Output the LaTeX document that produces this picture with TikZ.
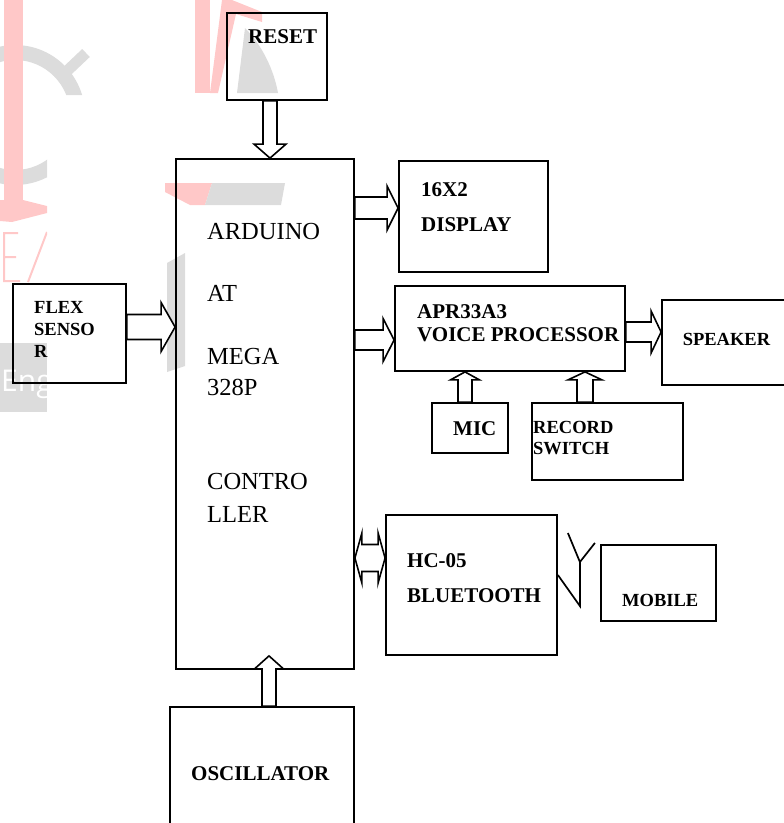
\documentclass[tikz,border=0pt]{standalone}
\usepackage{fontspec}
\setmainfont{Liberation Serif}
\setsansfont{Open Sans}
\usetikzlibrary{calc}
\definecolor{wmpink}{RGB}{255,200,200}
\definecolor{wmgray}{RGB}{220,220,220}
\tikzset{
  box/.style={draw, line width=1.8pt, inner sep=0pt},
  blk/.style={draw, line width=1.6pt, fill=white, line join=miter},
  lbl/.style={font=\bfseries\fontsize{21}{21}\selectfont, inner sep=0pt, anchor=west},
  slbl/.style={font=\bfseries\fontsize{18.5}{18.5}\selectfont, inner sep=0pt, anchor=west},
  mlbl/.style={font=\fontsize{24.5}{24.5}\selectfont, inner sep=0pt, anchor=west},
  ant/.style={draw, line width=1.7pt},
}
\newcommand{\blkright}[5]{%
  \draw[blk] let \p1=#1, \p2=#2 in
    (\x1,{\y1+#3}) -- ({\x2-#5},{\y1+#3}) -- ({\x2-#5},{\y1+#4}) -- (\x2,\y1)
    -- ({\x2-#5},{\y1-#4}) -- ({\x2-#5},{\y1-#3}) -- (\x1,{\y1-#3}) -- cycle;}
\newcommand{\blkup}[5]{%
  \draw[blk] let \p1=#1, \p2=#2 in
    ({\x1-#3},\y1) -- ({\x1-#3},{\y2-#5}) -- ({\x1-#4},{\y2-#5}) -- (\x1,\y2)
    -- ({\x1+#4},{\y2-#5}) -- ({\x1+#3},{\y2-#5}) -- ({\x1+#3},\y1) -- cycle;}
\newcommand{\blkdown}[5]{%
  \draw[blk] let \p1=#1, \p2=#2 in
    ({\x1-#3},\y1) -- ({\x1-#3},{\y2+#5}) -- ({\x1-#4},{\y2+#5}) -- (\x1,\y2)
    -- ({\x1+#4},{\y2+#5}) -- ({\x1+#3},{\y2+#5}) -- ({\x1+#3},\y1) -- cycle;}
\newcommand{\blkboth}[5]{%
  \draw[blk] let \p1=#1, \p2=#2 in
    (\x1,\y1) -- ({\x1+#5},{\y1+#4}) -- ({\x1+#5},{\y1+#3}) -- ({\x2-#5},{\y1+#3})
    -- ({\x2-#5},{\y1+#4}) -- (\x2,\y1) -- ({\x2-#5},{\y1-#4}) -- ({\x2-#5},{\y1-#3})
    -- ({\x1+#5},{\y1-#3}) -- ({\x1+#5},{\y1-#4}) -- cycle;}
\begin{document}
\begin{tikzpicture}[x=1pt, y=-1pt]
\useasboundingbox (0,0) rectangle (784,823);
\clip (0,0) rectangle (784,823);
% ---------- faint background watermark ----------
\begin{scope}
  \clip (0,0) rectangle (140,95) (0,95) rectangle (47,823);
  \fill[wmgray, even odd rule] (15,115) circle (70pt) (15,115) circle (55pt);
  \draw[wmgray, line width=11pt] (67,71) -- (86,53);
  \fill[wmpink] (4,0) rectangle (23,205);
  \fill[wmpink] (0,200) -- (23,200) -- (47,206) -- (47,213) -- (12,222) -- (0,221) -- cycle;
  \draw[wmpink, line width=2pt] (4,232) -- (4,282) (4,233) -- (18,233) (4,257) -- (16,257) (4,281) -- (20,281) (28,282) -- (47,232);
  \fill[wmgray] (0,343) rectangle (47,412);
  \node[font=\sffamily\fontsize{30}{30}\selectfont, text=white, inner sep=0pt, anchor=base west] (wmtext) at (1,391) {Engi};
\end{scope}
\fill[wmpink] (195,0) rectangle (210,93);
\fill[wmpink] (210,93) -- (218,93) -- (236,14) -- (262,22) -- (262,12) -- (232,0) -- (222,0) -- cycle;
\fill[wmgray] (237,93) -- (245,28) .. controls (262,45) and (274,70) .. (278,93) -- cycle;
\fill[wmpink] (165,183) -- (212,183) -- (205,205) -- (190,205) -- (165,192) -- cycle;
\fill[wmgray] (212,183) -- (285,183) -- (281,205) -- (205,205) -- cycle;
\fill[wmgray] (167,263) -- (185,253) -- (185,366) -- (167,372) -- cycle;
% ---------- blocks ----------
\node[box, minimum width=100pt, minimum height=87pt]  (reset) at (277,56.5) {};
\node[box, minimum width=178pt, minimum height=510pt] (main)  at (265,414) {};
\node[box, minimum width=113pt, minimum height=99pt]  (flex)  at (69.5,333.5) {};
\node[box, minimum width=149pt, minimum height=111pt] (disp)  at (473.5,216.5) {};
\node[box, minimum width=230pt, minimum height=85pt]  (apr)   at (510,328.5) {};
\node[box, minimum width=138pt, minimum height=85pt]  (spk)   at (731,342.5) {};
\node[box, minimum width=76pt,  minimum height=50pt]  (mic)   at (470,428) {};
\node[box, minimum width=151pt, minimum height=77pt]  (rec)   at (607.5,441.5) {};
\node[box, minimum width=171pt, minimum height=140pt] (bt)    at (471.5,585) {};
\node[box, minimum width=115pt, minimum height=76pt]  (mob)   at (658.5,583) {};
\node[box, minimum width=184pt, minimum height=133pt] (osc)   at (262,773.5) {};
% ---------- connector anchor points ----------
\coordinate (resetout) at ([xshift=-7pt]reset.south);
\coordinate (dispin)   at ([yshift=8.5pt]disp.west);
\coordinate (aprin)    at ([yshift=-11.5pt]apr.west);
\coordinate (spkin)    at ([yshift=10.5pt]spk.west);
\coordinate (flexout)  at ([yshift=6.5pt]flex.east);
\coordinate (btin)     at ([yshift=27pt]bt.west);
\coordinate (micout)   at ([xshift=-5pt]mic.north);
\coordinate (recout)   at ([xshift=-22.5pt]rec.north);
\coordinate (oscout)   at ([xshift=7pt]osc.north);
\coordinate (osctip)   at ([yshift=14pt]main.south -| oscout);
\coordinate (antbase)  at ([yshift=10pt]bt.east);
% ---------- block arrows ----------
\blkdown{(resetout)}{(main.north -| resetout)}{7pt}{16pt}{14pt}
\blkright{(main.east |- dispin)}{(dispin)}{11pt}{22pt}{11pt}
\blkright{(main.east |- aprin)}{(aprin)}{10pt}{21.5pt}{11pt}
\blkright{(apr.east |- spkin)}{(spkin)}{10pt}{21pt}{10pt}
\blkright{(flexout)}{(main.west |- flexout)}{12.5pt}{24.5pt}{14pt}
\blkup{(micout)}{(apr.south -| micout)}{7pt}{14.5pt}{8pt}
\blkup{(recout)}{(apr.south -| recout)}{8pt}{17pt}{8pt}
\blkup{(oscout)}{(osctip)}{7pt}{14.5pt}{13pt}
\blkboth{(main.east |- btin)}{(btin)}{13.5pt}{25pt}{7pt}
% ---------- antenna ----------
\draw[ant] (antbase) -- ++(22,31) -- ++(0,-44) coordinate (ant) -- ++(-12,-29);
\draw[ant] (ant) -- ++(15,-19);
% ---------- labels ----------
\node[lbl] (tReset) at (248,36.5) {RESET};
\node[lbl] (t16) at (421,190) {16X2};
\node[lbl] (tDisp) at (421,225) {DISPLAY};
\node[lbl] (tApr) at (417,312) {APR33A3};
\node[lbl] (tVoice) at (417,335) {VOICE PROCESSOR};
\node[slbl, anchor=center] (tSpk) at (726.5,339) {SPEAKER};
\node[lbl] (tMic) at (453,428.5) {MIC};
\node[slbl] (tRec) at (533,427) {RECORD};
\node[slbl] (tSw) at (533,448.5) {SWITCH};
\node[lbl] (tHc) at (407,560.5) {HC-05};
\node[lbl] (tBt) at (407,595.5) {BLUETOOTH};
\node[slbl] (tMob) at (622,600) {MOBILE};
\node[lbl] (tOsc) at (191,773.5) {OSCILLATOR};
\node[slbl] (tFlex1) at (34,307) {FLEX};
\node[slbl] (tFlex2) at (34,329.5) {SENSO};
\node[slbl] (tFlex3) at (34,351.5) {R};
\node[mlbl] (tM1) at (207,232) {ARDUINO};
\node[mlbl] (tM2) at (207,293.5) {AT};
\node[mlbl] (tM3) at (207,356.5) {MEGA};
\node[mlbl] (tM4) at (207,387.5) {328P};
\node[mlbl] (tM5) at (207,481) {CONTRO};
\node[mlbl] (tM6) at (207,514) {LLER};
\end{tikzpicture}
\end{document}
